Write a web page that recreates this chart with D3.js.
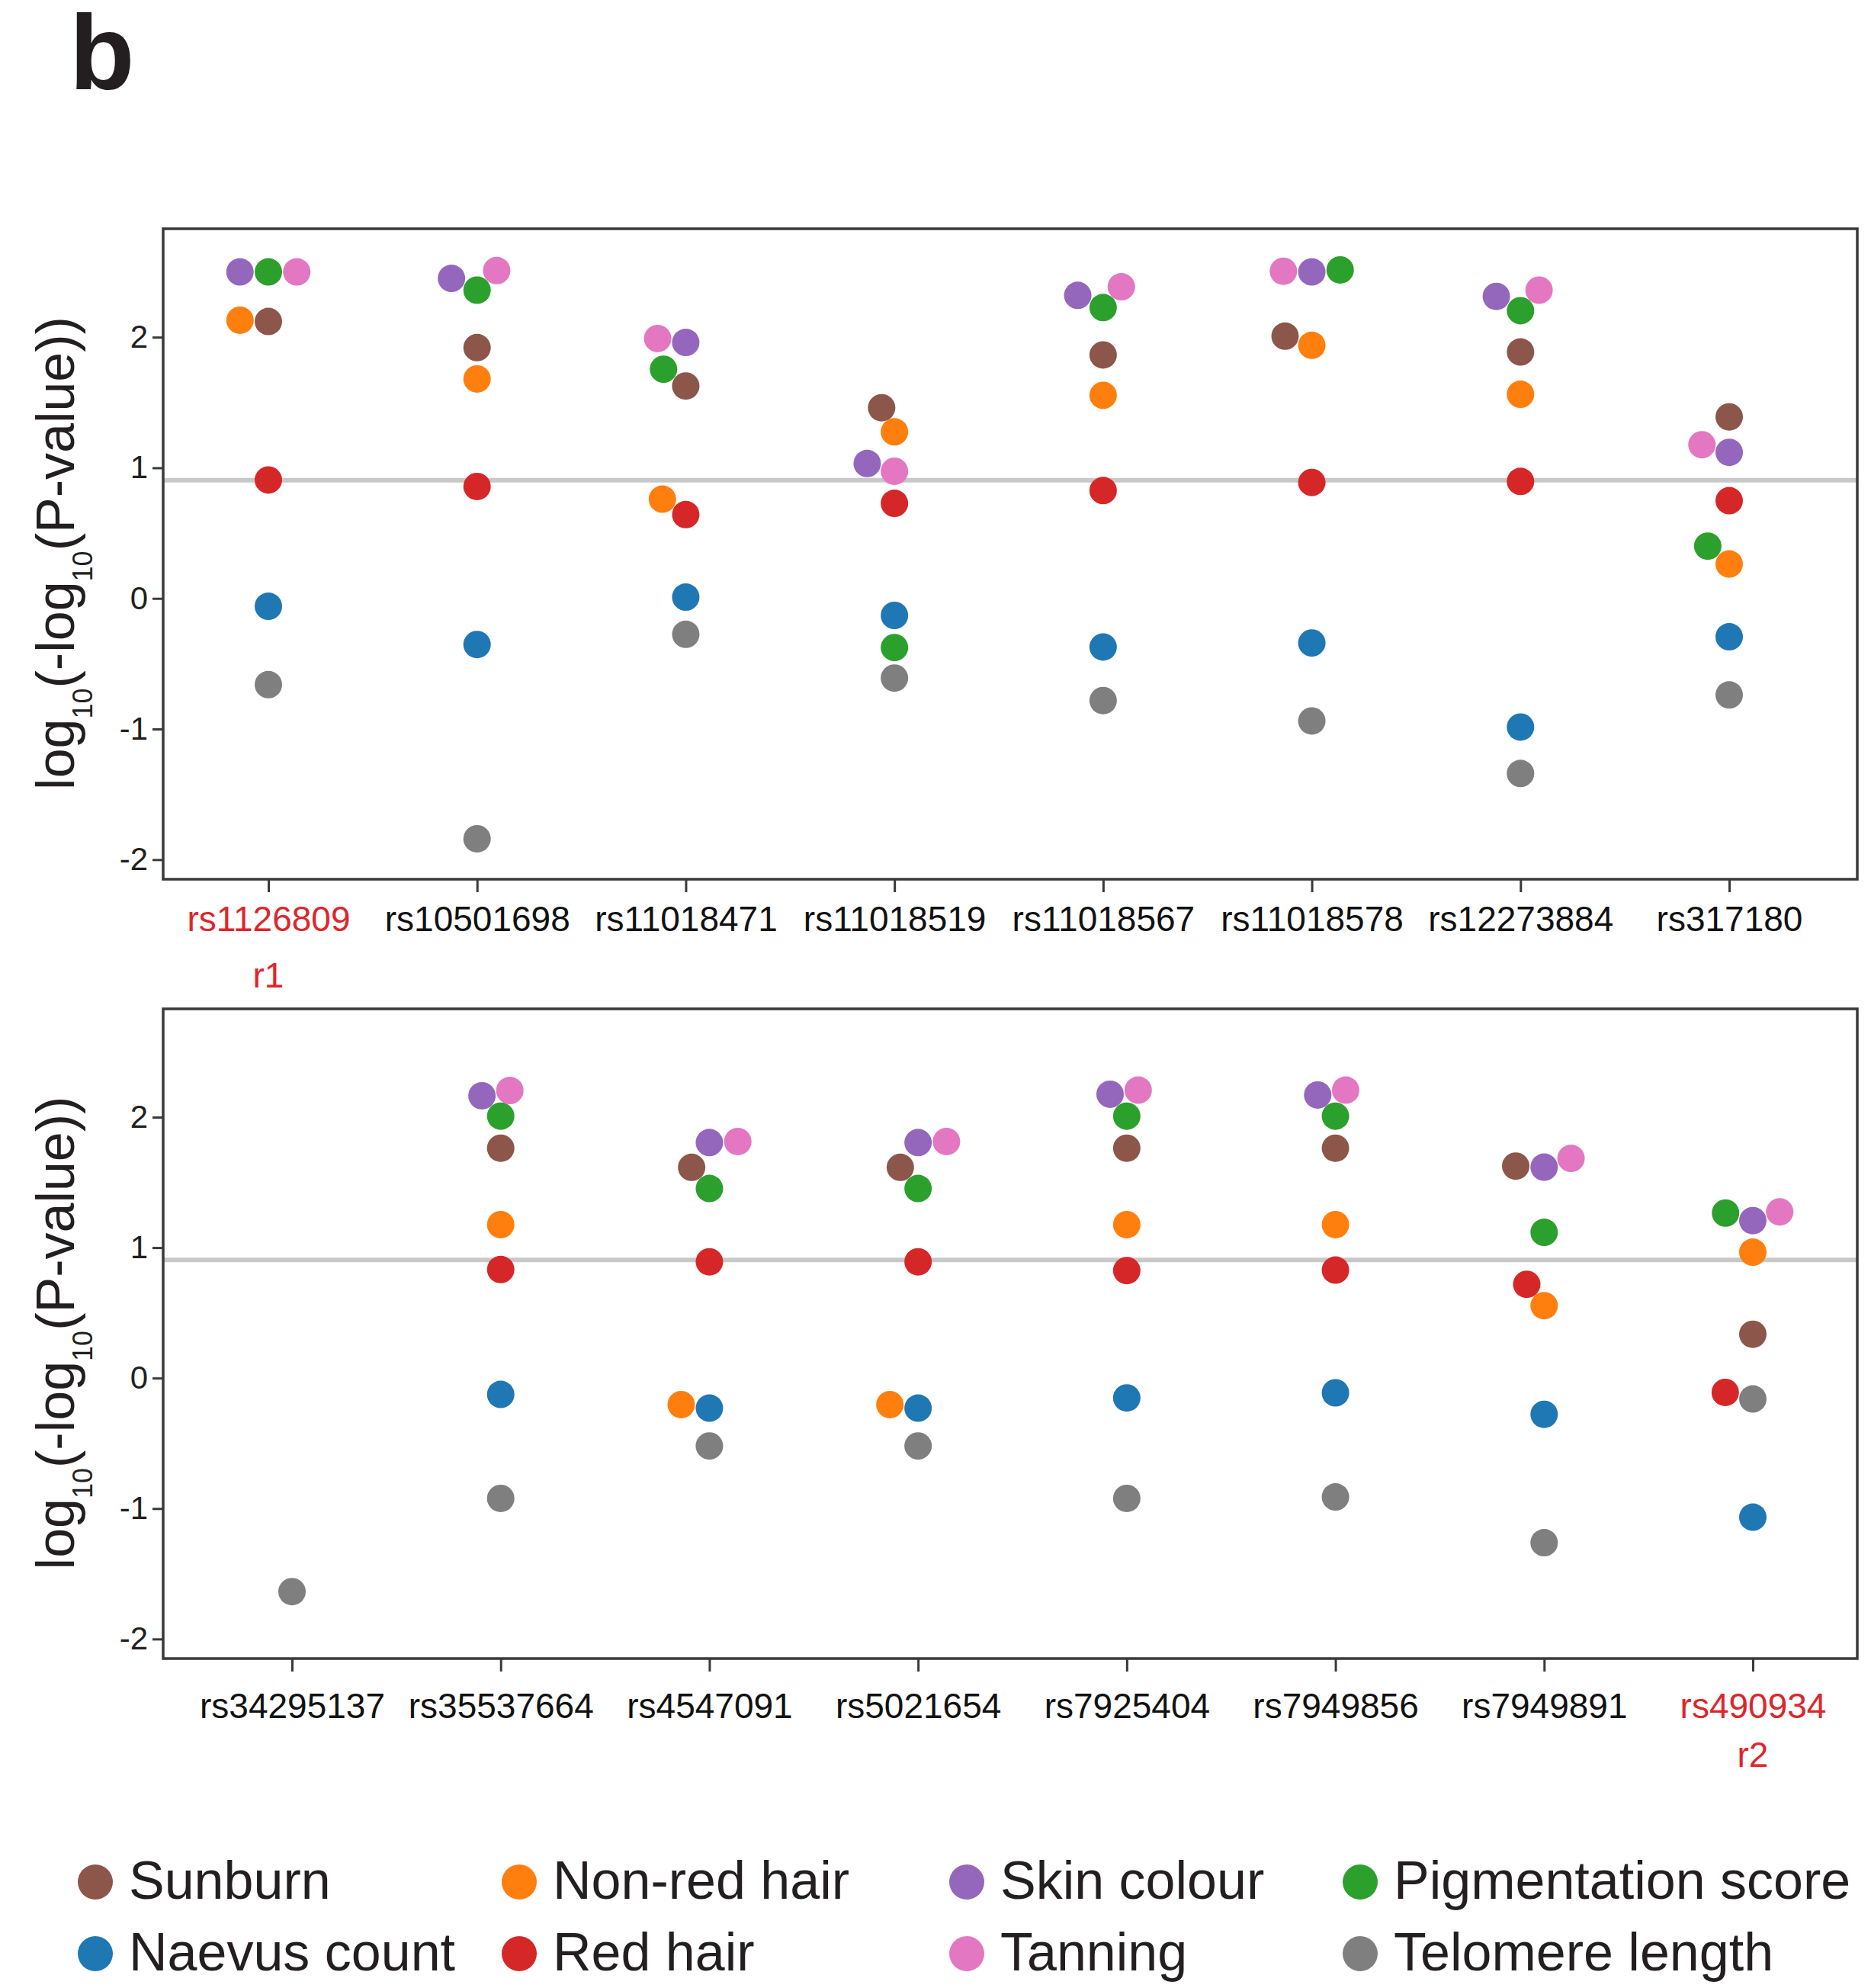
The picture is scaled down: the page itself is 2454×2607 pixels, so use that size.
<!DOCTYPE html>
<html>
<head>
<meta charset="utf-8">
<script src="https://cdn.jsdelivr.net/npm/d3@7.9.0/dist/d3.min.js"></script>
<style>
  body { margin: 0; background: #fff; }
  svg text { font-family: "Liberation Sans", Arial, Helvetica, sans-serif; }
</style>
</head>
<body>
<svg id="chart" width="2454" height="2607"></svg>
<script>
// traits in alphabetical order (this is also the hue order -> tab10 colours)
const traits = ['Naevus count', 'Non-red hair', 'Pigmentation score', 'Red hair',
  'Skin colour', 'Sunburn', 'Tanning', 'Telomere length'];
const legendOrder = ['Sunburn', 'Non-red hair', 'Skin colour', 'Pigmentation score',
  'Naevus count', 'Red hair', 'Tanning', 'Telomere length'];

const snpsTop = ['rs1126809', 'rs10501698', 'rs11018471', 'rs11018519',
  'rs11018567', 'rs11018578', 'rs12273884', 'rs317180'];
const snpsBottom = ['rs34295137', 'rs35537664', 'rs4547091', 'rs5021654',
  'rs7925404', 'rs7949856', 'rs7949891', 'rs490934'];
const notes = { rs1126809: 'r1', rs490934: 'r2' };

const yTicks = [-2, -1, 0, 1, 2];
const threshold = 0.905;

// log10(-log10(P)) per SNP, top panel
const naevusTop = [-0.06, -0.353, 0.01, -0.13, -0.372, -0.341, -0.985, -0.294];
const nonRedTop = [2.13, 1.68, 0.76, 1.275, 1.555, 1.938, 1.563, 0.264];
const pigmentTop = [2.50, 2.36, 1.755, -0.376, 2.227, 2.515, 2.203, 0.40];
const redHairTop = [0.907, 0.857, 0.642, 0.728, 0.826, 0.888, 0.896, 0.748];
const skinTop = [2.50, 2.45, 1.96, 1.033, 2.32, 2.50, 2.312, 1.118];
const sunburnTop = [2.12, 1.92, 1.626, 1.46, 1.864, 2.008, 1.887, 1.39];
const tanningTop = [2.50, 2.51, 1.99, 0.974, 2.386, 2.505, 2.36, 1.177];
const telomereTop = [-0.66, -1.84, -0.275, -0.61, -0.782, -0.938, -1.34, -0.739];

// bottom panel (null = not tested)
const naevusBottom = [null, -0.125, -0.23, -0.23, -0.152, -0.113, -0.278, -1.066];
const nonRedBottom = [null, 1.176, -0.203, -0.203, 1.176, 1.176, 0.555, 0.965];
const pigmentBottom = [null, 2.008, 1.453, 1.453, 2.008, 2.008, 1.117, 1.265];
const redHairBottom = [null, 0.832, 0.891, 0.891, 0.824, 0.828, 0.719, -0.11];
const skinBottom = [null, 2.164, 1.805, 1.805, 2.176, 2.17, 1.617, 1.207];
const sunburnBottom = [null, 1.762, 1.615, 1.615, 1.762, 1.762, 1.625, 0.336];
const tanningBottom = [null, 2.204, 1.813, 1.813, 2.207, 2.207, 1.684, 1.274];
const telomereBottom = [-1.637, -0.922, -0.52, -0.52, -0.922, -0.911, -1.262, -0.16];

const valuesTop = [naevusTop, nonRedTop, pigmentTop, redHairTop, skinTop, sunburnTop, tanningTop, telomereTop];
const valuesBottom = [naevusBottom, nonRedBottom, pigmentBottom, redHairBottom, skinBottom, sunburnBottom, tanningBottom, telomereBottom];

const color = d3.scaleOrdinal(traits, d3.schemeCategory10);
const svg = d3.select('#chart');
const ink = '#231f20';
const frameColor = '#3a3a3a';
const red = '#dd262c';

// seaborn style beeswarm: points sorted by value, offsets relative to the midline
function swarm(pts, d) {
  let placed = [];
  pts.forEach((p, i) => {
    if (i === 0) { placed.push({ ...p, off: 0 }); return; }
    let neigh = [];
    for (let j = placed.length - 1; j >= 0; j--) {
      if (p.u - placed[j].u < d) neigh.push(placed[j]);
      else break;
    }
    neigh.reverse();
    let cands = [0];
    let leftFirst = true;
    neigh.forEach(n => {
      let dx = Math.sqrt(Math.max(d * d - (p.u - n.u) ** 2, 0)) * 1.05;
      let l = n.off - dx, r = n.off + dx;
      cands.push(...(leftFirst ? [l, r] : [r, l]));
      leftFirst = !leftFirst;
    });
    cands = cands.map((c, k) => ({ c, k }))
      .sort((a, b) => (Math.abs(a.c) - Math.abs(b.c)) || (a.k - b.k));
    let ok = cands.find(({ c }) =>
      neigh.every(n => (n.off - c) ** 2 + (n.u - p.u) ** 2 >= d * d));
    placed.push({ ...p, off: ok ? ok.c : 0 });
  });
  return placed;
}

function drawPanel(snps, values, box, xRange, labelPad, noteY) {
  const x = d3.scalePoint().domain(snps).range(xRange);
  const y = d3.scaleLinear().domain([-2.15, 2.83]).range([box.bottom, box.top]);
  const g = svg.append('g');

  // threshold line
  g.append('line')
    .attr('x1', box.left).attr('x2', box.right)
    .attr('y1', y(threshold)).attr('y2', y(threshold))
    .attr('stroke', '#c8c8c8').attr('stroke-width', 6);

  snps.forEach((snp, i) => {
    let pts = traits.map((t, k) => ({ trait: t, v: values[k][i] }))
      .filter(p => p.v != null);
    pts.forEach(p => p.u = -y(p.v));
    pts.sort((a, b) => a.v - b.v);
    let placed = swarm(pts, 35.5);
    g.append('g').selectAll('circle')
      .data(placed)
      .join('circle')
      .attr('cx', p => x(snp) + p.off)
      .attr('cy', p => y(p.v))
      .attr('r', 18)
      .attr('fill', p => color(p.trait));
  });

  // frame
  g.append('rect')
    .attr('x', box.left).attr('y', box.top)
    .attr('width', box.right - box.left).attr('height', box.bottom - box.top)
    .attr('fill', 'none').attr('stroke', frameColor).attr('stroke-width', 3.5);

  // y axis
  const ya = g.append('g')
    .attr('transform', `translate(${box.left},0)`)
    .call(d3.axisLeft(y).tickValues(yTicks).tickSize(14).tickPadding(6).tickFormat(d => String(d)));
  ya.select('.domain').remove();
  ya.selectAll('line').attr('stroke', frameColor).attr('stroke-width', 3);
  ya.selectAll('text').attr('font-size', 42).attr('fill', ink)
    .attr('font-family', '"Liberation Sans", Arial, sans-serif');

  // x axis
  const xa = g.append('g')
    .attr('transform', `translate(0,${box.bottom})`)
    .call(d3.axisBottom(x).tickSize(17).tickPadding(labelPad));
  xa.select('.domain').remove();
  xa.selectAll('line').attr('stroke', frameColor).attr('stroke-width', 3);
  xa.selectAll('text').attr('font-size', 46)
    .attr('font-family', '"Liberation Sans", Arial, sans-serif')
    .attr('fill', d => notes[d] ? red : '#111');

  snps.filter(s => notes[s]).forEach(s => {
    g.append('text')
      .attr('x', x(s)).attr('y', noteY)
      .attr('text-anchor', 'middle')
      .attr('font-size', 46).attr('fill', red)
      .text(notes[s]);
  });

  // y label: log10(-log10(P-value))
  const lab = g.append('text')
    .attr('transform', `translate(97,${(box.top + box.bottom) / 2 - 1}) rotate(-90)`)
    .attr('text-anchor', 'middle')
    .attr('font-size', 70).attr('fill', ink);
  lab.append('tspan').text('log');
  lab.append('tspan').attr('font-size', 36).attr('dy', 24).text('10');
  lab.append('tspan').attr('dy', -24).text('(-log');
  lab.append('tspan').attr('font-size', 36).attr('dy', 24).text('10');
  lab.append('tspan').attr('dy', -24).text('(P-value))');
}

drawPanel(snpsTop, valuesTop, { left: 214, right: 2436, top: 300, bottom: 1153 },
  [352, 2268], 18, 1295);
drawPanel(snpsBottom, valuesBottom, { left: 214, right: 2436, top: 1323, bottom: 2175 },
  [383, 2299], 28, 2317);

// panel letter
svg.append('text')
  .attr('x', 91).attr('y', 117)
  .attr('font-size', 140).attr('font-weight', 'bold').attr('fill', ink)
  .text('b');

// legend, 4 columns x 2 rows
const legendX = [125, 681, 1268, 1784];
const legendY = [2468, 2562];
const lg = svg.append('g').selectAll('g')
  .data(legendOrder)
  .join('g')
  .attr('transform', (d, i) => `translate(${legendX[i % 4]},${legendY[Math.floor(i / 4)]})`);
lg.append('circle').attr('r', 23).attr('fill', d => color(d));
lg.append('text')
  .attr('x', 44).attr('y', 22)
  .attr('font-size', 70)
  .attr('font-family', '"Open Sans", "Noto Sans", sans-serif')
  .attr('fill', ink)
  .text(d => d);
</script>
</body>
</html>
